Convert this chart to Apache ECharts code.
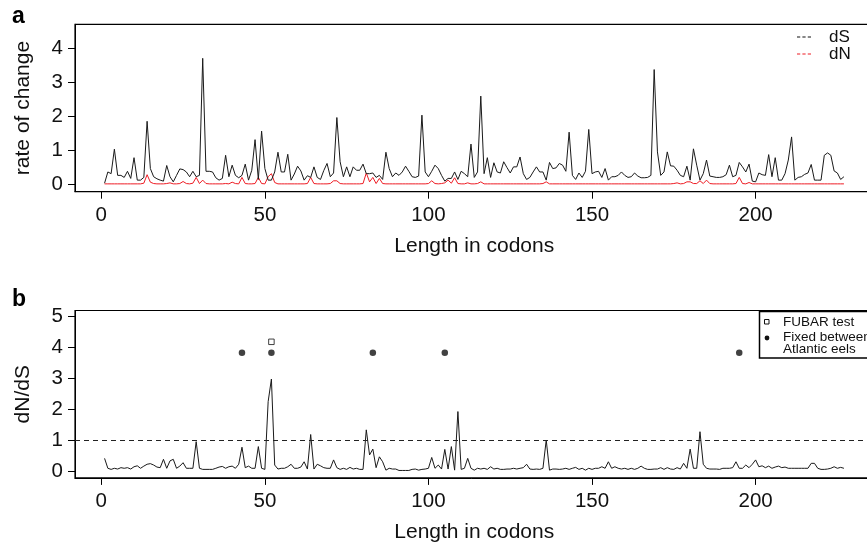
<!DOCTYPE html>
<html>
<head>
<meta charset="utf-8">
<script src="https://cdn.jsdelivr.net/npm/echarts@6/dist/echarts.min.js"></script>
<style>
html,body{margin:0;padding:0;background:#fff;}
#chart{width:867px;height:545px;}
</style>
</head>
<body>
<div id="chart"></div>
<script>
// ---- data ----
const xTicks = [0, 50, 100, 150, 200];
const yTicksA = [0, 1, 2, 3, 4];
const yTicksB = [0, 1, 2, 3, 4, 5];

const dS = [
  0.03,0.36,0.31,1.03,0.26,0.26,0.2,0.38,0.17,0.78,
  0.12,0.12,0.2,1.85,0.46,0.22,0.16,0.12,0.09,0.55,
  0.22,0.07,0.26,0.45,0.43,0.36,0.22,0.38,0.22,0.26,
  3.7,0.38,0.38,0.36,0.19,0.12,0.17,0.85,0.22,0.56,
  0.26,0.19,0.26,0.59,0.12,0.41,1.31,0.14,1.56,0.46,
  0.12,0.12,0.36,0.94,0.36,0.36,0.88,0.12,0.3,0.53,
  0.39,0.12,0.25,0.2,0.51,0.2,0.14,0.4,0.61,0.22,
  0.33,1.96,0.66,0.22,0.51,0.22,0.51,0.41,0.41,0.59,
  0.31,0.31,0.33,0.2,0.26,0.14,0.94,0.46,0.22,0.33,
  0.26,0.36,0.53,0.38,0.22,0.2,0.24,2.03,0.36,0.22,
  0.38,0.56,0.46,0.26,0.09,0.17,0.17,0.36,0.14,0.38,
  0.31,0.22,1.18,0.2,0.36,2.59,0.31,0.78,0.2,0.63,
  0.36,0.33,0.66,0.49,0.33,0.51,0.51,0.8,0.31,0.14,
  0.2,0.36,0.51,0.36,0.36,0.12,0.64,0.46,0.48,0.61,
  0.56,0.38,1.53,0.26,0.14,0.33,0.2,0.38,1.61,0.31,
  0.36,0.38,0.2,0.46,0.12,0.22,0.22,0.26,0.36,0.26,
  0.2,0.22,0.33,0.24,0.19,0.19,0.2,0.26,3.37,0.95,
  0.26,0.36,0.95,0.54,0.53,0.41,0.26,0.22,0.53,0.12,
  1.04,0.56,0.12,0.31,0.71,0.24,0.22,0.2,0.2,0.22,
  0.28,0.56,0.22,0.26,0.64,0.51,0.36,0.59,0.09,0.07,
  0.33,0.28,0.26,0.87,0.22,0.78,0.12,0.12,0.31,0.71,
  1.39,0.12,0.2,0.22,0.29,0.33,0.58,0.12,0.12,0.12,
  0.85,0.92,0.85,0.39,0.33,0.14,0.22
];

const dN = [
  0.01,0.01,0.01,0.01,0.01,0.01,0.01,0.01,0.01,0.01,
  0.01,0.01,0.03,0.28,0.06,0.02,0.01,0.01,0.01,0.02,
  0.04,0.01,0.01,0.02,0.08,0.02,0.01,0.03,0.2,0.02,
  0.12,0.02,0.01,0.01,0.01,0.01,0.01,0.02,0.01,0.06,
  0.02,0.01,0.2,0.02,0.01,0.01,0.02,0.2,0.02,0.01,
  0.22,0.31,0.05,0.01,0.01,0.01,0.01,0.01,0.01,0.01,
  0.01,0.01,0.02,0.2,0.02,0.01,0.01,0.01,0.01,0.02,
  0.1,0.1,0.02,0.01,0.01,0.01,0.01,0.01,0.01,0.02,
  0.33,0.07,0.2,0.02,0.17,0.02,0.01,0.01,0.01,0.01,
  0.01,0.01,0.01,0.01,0.01,0.01,0.01,0.01,0.01,0.02,
  0.1,0.02,0.01,0.02,0.04,0.12,0.03,0.19,0.02,0.01,
  0.01,0.04,0.01,0.01,0.02,0.07,0.01,0.01,0.01,0.01,
  0.01,0.01,0.01,0.01,0.01,0.01,0.01,0.01,0.01,0.01,
  0.01,0.01,0.01,0.01,0.02,0.07,0.01,0.01,0.01,0.01,
  0.01,0.01,0.01,0.01,0.01,0.01,0.01,0.01,0.01,0.01,
  0.01,0.01,0.01,0.01,0.01,0.01,0.01,0.01,0.01,0.01,
  0.01,0.01,0.01,0.01,0.01,0.01,0.01,0.01,0.01,0.01,
  0.01,0.01,0.01,0.01,0.02,0.04,0.01,0.02,0.07,0.07,
  0.02,0.02,0.1,0.02,0.12,0.02,0.01,0.01,0.01,0.01,
  0.01,0.01,0.01,0.02,0.2,0.02,0.01,0.05,0.01,0.01,
  0.01,0.01,0.01,0.01,0.01,0.01,0.01,0.01,0.01,0.01,
  0.01,0.01,0.01,0.01,0.01,0.01,0.01,0.01,0.01,0.01,
  0.01,0.01,0.01,0.01,0.01,0.01,0.01
];

const dNdS = [
  0.43,0.11,0.075,0.11,0.086,0.13,0.11,0.13,0.086,0.16,
  0.19,0.11,0.18,0.24,0.26,0.215,0.15,0.13,0.4,0.11,
  0.35,0.4,0.11,0.18,0.29,0.11,0.11,0.11,0.97,0.11,
  0.075,0.075,0.075,0.075,0.11,0.15,0.17,0.11,0.16,0.18,
  0.11,0.24,0.79,0.13,0.18,0.11,0.11,0.81,0.11,0.075,
  2.26,2.99,0.215,0.086,0.11,0.11,0.16,0.24,0.11,0.11,
  0.15,0.32,0.086,1.2,0.086,0.24,0.19,0.13,0.11,0.11,
  0.38,0.13,0.075,0.11,0.075,0.14,0.086,0.11,0.075,0.075,
  1.35,0.54,0.73,0.13,0.48,0.32,0.05,0.11,0.086,0.086,
  0.04,0.04,0.04,0.04,0.075,0.086,0.05,0.075,0.086,0.11,
  0.46,0.11,0.215,0.086,0.72,0.086,0.81,0.05,1.94,0.075,
  0.11,0.43,0.11,0.05,0.11,0.086,0.11,0.075,0.16,0.086,
  0.11,0.075,0.075,0.086,0.086,0.11,0.086,0.11,0.13,0.24,
  0.086,0.075,0.086,0.075,0.11,1.02,0.05,0.086,0.086,0.075,
  0.086,0.11,0.075,0.11,0.14,0.075,0.11,0.05,0.11,0.075,
  0.11,0.11,0.16,0.11,0.32,0.11,0.16,0.11,0.086,0.11,
  0.075,0.11,0.075,0.11,0.18,0.11,0.075,0.075,0.086,0.086,
  0.13,0.075,0.13,0.086,0.075,0.13,0.086,0.27,0.11,0.73,
  0.11,0.11,1.29,0.24,0.11,0.086,0.086,0.086,0.075,0.11,
  0.11,0.11,0.13,0.32,0.11,0.11,0.215,0.13,0.24,0.38,
  0.16,0.19,0.13,0.18,0.11,0.15,0.18,0.13,0.15,0.11,
  0.11,0.11,0.11,0.11,0.11,0.11,0.27,0.27,0.11,0.075,
  0.075,0.086,0.11,0.16,0.11,0.14,0.11
];

const fixedCodons = [43, 52, 83, 105, 195];
const fixedLevel = [3.84];
const fubarCodons = [52];
const fubarLevel = [4.19];
const thresholdLevel = [1];

const seriesNames = ['dS', 'dN'];
const legendNamesB = ['FUBAR test', 'Fixed between\nAtlantic eels'];

// ---- chart ----
const codons = dS.map((_, i) => i + 1);
const FONT = '"Liberation Sans", Arial, Helvetica, sans-serif';
const XMIN = -8.04, XMAX = 236.04;

function xAxisCfg(grid) {
  return {
    type: 'value', gridIndex: grid, min: XMIN, max: XMAX,
    axisLine: { show: true, onZero: false, lineStyle: { color: '#000', width: 1 } },
    axisTick: { show: true, customValues: xTicks, length: 7, lineStyle: { color: '#000', width: 1 } },
    axisLabel: { customValues: xTicks, fontSize: 20.5, color: '#111', fontFamily: FONT, margin: 13, hideOverlap: false },
    splitLine: { show: false },
    name: 'Length in codons', nameLocation: 'middle', nameGap: 44,
    nameTextStyle: { fontSize: 21, color: '#111', fontFamily: FONT }
  };
}
function yAxisCfg(grid, min, max, ticks, name) {
  return {
    type: 'value', gridIndex: grid, min: min, max: max,
    axisLine: { show: true, onZero: false, lineStyle: { color: '#000', width: 1 } },
    axisTick: { show: true, customValues: ticks, length: 7, lineStyle: { color: '#000', width: 1 } },
    axisLabel: { customValues: ticks, fontSize: 20.5, color: '#111', fontFamily: FONT, margin: 12 },
    splitLine: { show: false },
    name: name, nameLocation: 'middle', nameGap: 41, nameRotate: 90,
    nameTextStyle: { fontSize: 21, color: '#111', fontFamily: FONT }
  };
}

const chart = echarts.init(document.getElementById('chart'), null, { renderer: 'canvas' });
chart.setOption({
  animation: false,
  backgroundColor: '#fff',
  grid: [
    { left: 75, top: 24.3, width: 798.5, height: 167.4, outerBoundsMode: 'none', containLabel: false,
      show: true, borderColor: '#000', borderWidth: 1.2, backgroundColor: 'transparent' },
    { left: 75, top: 310.5, width: 798.5, height: 167.4, outerBoundsMode: 'none', containLabel: false,
      show: true, borderColor: '#000', borderWidth: 1.2, backgroundColor: 'transparent' }
  ],
  xAxis: [xAxisCfg(0), xAxisCfg(1)],
  yAxis: [
    yAxisCfg(0, -0.22, 4.7, yTicksA, 'rate of change'),
    yAxisCfg(1, -0.2, 5.2, yTicksB, 'dN/dS')
  ],
  legend: {
    data: seriesNames,
    orient: 'vertical', left: 797, top: 28.5, padding: 0, itemGap: 0,
    itemWidth: 14, itemHeight: 2,
    icon: 'path://M0,0h3v1h-3zM5,0h3v1h-3zM10,0h3v1h-3z',
    textStyle: { fontSize: 17, color: '#111', fontFamily: FONT, padding: [0, 0, 0, 13] },
    selectedMode: false
  },
  series: [
    {
      name: seriesNames[0], type: 'line', xAxisIndex: 0, yAxisIndex: 0,
      data: codons.map((c, i) => [c, dS[i]]), showSymbol: false, symbol: 'none',
      color: '#111', lineStyle: { color: '#1a1a1a', width: 1 }, z: 3
    },
    {
      name: seriesNames[1], type: 'line', xAxisIndex: 0, yAxisIndex: 0,
      data: codons.map((c, i) => [c, dN[i]]), showSymbol: false, symbol: 'none',
      color: '#ee1c24', lineStyle: { color: '#ee1c24', width: 1 }, z: 2
    },
    {
      name: 'dN/dS', type: 'line', xAxisIndex: 1, yAxisIndex: 1,
      data: codons.map((c, i) => [c, dNdS[i]]), showSymbol: false, symbol: 'none',
      color: '#1a1a1a', lineStyle: { color: '#1a1a1a', width: 1 },
      markLine: {
        silent: true, symbol: ['none', 'none'], label: { show: false },
        lineStyle: { color: '#222', width: 1, type: [5, 4] },
        data: thresholdLevel.map(v => ({ yAxis: v }))
      }
    },
    {
      name: legendNamesB[1], type: 'scatter', xAxisIndex: 1, yAxisIndex: 1,
      data: fixedCodons.map(c => [c, fixedLevel[0]]),
      symbol: 'circle', symbolSize: 6.5, itemStyle: { color: '#111' }
    },
    {
      name: legendNamesB[0], type: 'scatter', xAxisIndex: 1, yAxisIndex: 1,
      data: fubarCodons.map(c => [c, fubarLevel[0]]),
      symbol: 'rect', symbolSize: 5.5,
      itemStyle: { color: '#fff', borderColor: '#111', borderWidth: 1 }
    }
  ],
  graphic: [
    { type: 'text', left: 12, top: 5, style: { text: 'a', font: 'bold 23px ' + FONT, fill: '#000' } },
    { type: 'text', left: 12, top: 288, style: { text: 'b', font: 'bold 23px ' + FONT, fill: '#000' } },
    // legend box for panel b
    { type: 'rect', shape: { x: 759.5, y: 311.5, width: 130, height: 46.5 },
      style: { fill: '#fff', stroke: '#000', lineWidth: 1.5 }, z: 10 },
    { type: 'rect', shape: { x: 764.5, y: 319.5, width: 4.5, height: 4.5 },
      style: { fill: '#fff', stroke: '#111', lineWidth: 1 }, z: 11 },
    { type: 'circle', shape: { cx: 767, cy: 338, r: 2.4 }, style: { fill: '#111' }, z: 11 },
    { type: 'text', x: 783, y: 322, z: 11,
      style: { text: legendNamesB[0], font: '13.5px ' + FONT, fill: '#111', verticalAlign: 'middle' } },
    { type: 'text', x: 783, y: 331, z: 11,
      style: { text: legendNamesB[1], font: '13.5px ' + FONT, fill: '#111', lineHeight: 12.5, verticalAlign: 'top' } }
  ]
});
</script>
</body>
</html>
